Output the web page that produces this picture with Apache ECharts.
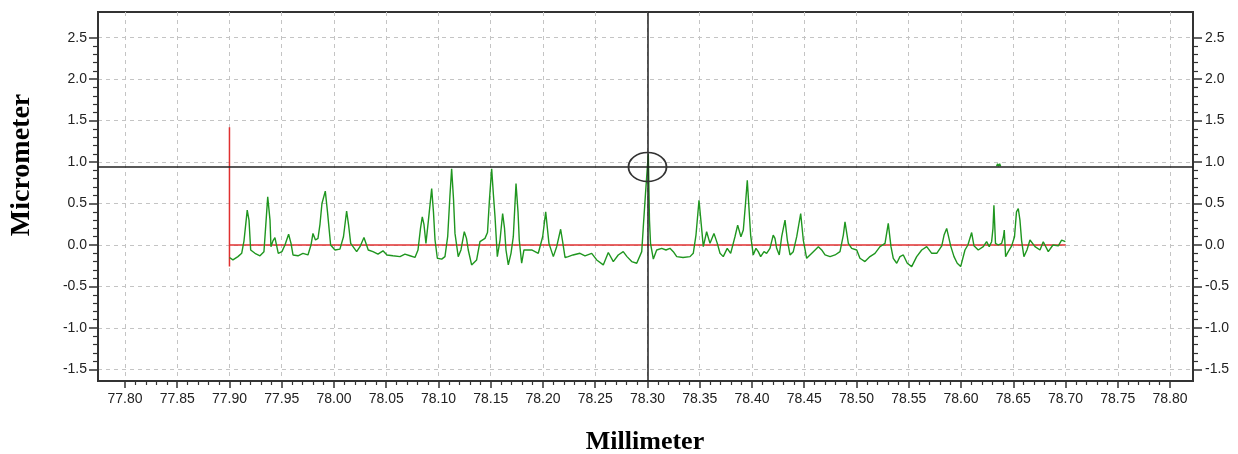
<!DOCTYPE html>
<html>
<head>
<meta charset="utf-8">
<script src="https://cdn.jsdelivr.net/npm/echarts@6/dist/echarts.min.js"></script>
<style>html,body{margin:0;padding:0;background:#fff}#c{width:1238px;height:454px}</style>
</head>
<body>
<div id="c"></div>
<script>
// ---- data ----
const xRange = [77.7742, 78.822];
const yRange = [-1.64, 2.81];
const xTicks = [77.80,77.85,77.90,77.95,78.00,78.05,78.10,78.15,78.20,78.25,78.30,78.35,78.40,78.45,78.50,78.55,78.60,78.65,78.70,78.75,78.80];
const yTicks = [-1.5,-1.0,-0.5,0.0,0.5,1.0,1.5,2.0,2.5];
const xName = 'Millimeter';
const yName = 'Micrometer';
// measured profile [mm, µm]
const profile = [
[77.9000,-0.15],[77.9033,-0.18],[77.9081,-0.14],[77.9117,-0.10],[77.9139,0.05],[77.9170,0.42],[77.9187,0.30],[77.9203,-0.06],
[77.9244,-0.10],[77.9292,-0.13],[77.9330,-0.08],[77.9366,0.58],[77.9388,0.30],[77.9397,-0.02],[77.9416,0.05],[77.9435,0.09],
[77.9467,-0.10],[77.9502,-0.08],[77.9531,0.00],[77.9566,0.13],[77.9589,0.02],[77.9608,-0.12],[77.9656,-0.13],[77.9703,-0.10],
[77.9751,-0.12],[77.9780,0.00],[77.9799,0.14],[77.9823,0.06],[77.9847,0.08],[77.9866,0.25],[77.9885,0.50],[77.9917,0.65],
[77.9938,0.40],[77.9968,0.00],[78.0010,-0.06],[78.0057,-0.05],[78.0091,0.10],[78.0121,0.41],[78.0139,0.25],[78.0160,0.02],
[78.0217,-0.08],[78.0249,-0.02],[78.0287,0.09],[78.0328,-0.06],[78.0373,-0.08],[78.0421,-0.11],[78.0469,-0.07],[78.0507,-0.12],
[78.0564,-0.13],[78.0632,-0.14],[78.0679,-0.11],[78.0727,-0.13],[78.0775,-0.15],[78.0804,-0.06],[78.0828,0.20],[78.0845,0.34],
[78.0861,0.25],[78.0880,0.02],[78.0904,0.30],[78.0935,0.68],[78.0952,0.40],[78.0967,0.06],[78.0989,-0.16],[78.1031,-0.17],
[78.1062,-0.14],[78.1088,0.10],[78.1110,0.60],[78.1126,0.92],[78.1144,0.55],[78.1158,0.14],[78.1189,-0.14],[78.1215,-0.06],
[78.1247,0.16],[78.1268,0.08],[78.1285,-0.06],[78.1317,-0.24],[78.1365,-0.18],[78.1397,0.04],[78.1445,0.08],[78.1469,0.15],
[78.1488,0.55],[78.1509,0.92],[78.1526,0.60],[78.1541,0.34],[78.1563,-0.14],[78.1589,0.06],[78.1614,0.38],[78.1632,0.20],
[78.1646,-0.06],[78.1668,-0.24],[78.1694,-0.10],[78.1716,0.10],[78.1742,0.74],[78.1761,0.40],[78.1773,0.06],[78.1796,-0.22],
[78.1818,-0.06],[78.1892,-0.06],[78.1955,-0.10],[78.1997,0.10],[78.2026,0.40],[78.2057,0.02],[78.2099,-0.14],[78.2131,-0.02],
[78.2169,0.19],[78.2187,0.05],[78.2211,-0.15],[78.2242,-0.14],[78.2287,-0.12],[78.2354,-0.10],[78.2402,-0.13],[78.2466,-0.10],
[78.2514,-0.18],[78.2577,-0.24],[78.2625,-0.09],[78.2673,-0.20],[78.2720,-0.12],[78.2768,-0.08],[78.2804,-0.14],[78.2849,-0.20],
[78.2897,-0.22],[78.2945,-0.08],[78.2960,0.22],[78.2981,0.62],[78.2995,0.60],[78.3008,1.10],[78.3019,0.30],[78.3029,0.02],
[78.3056,-0.17],[78.3088,-0.06],[78.3136,-0.04],[78.3177,-0.06],[78.3215,-0.04],[78.3247,-0.08],[78.3280,-0.14],[78.3340,-0.15],
[78.3407,-0.14],[78.3438,-0.10],[78.3464,0.12],[78.3493,0.54],[78.3518,0.20],[78.3534,-0.02],[78.3566,0.16],[78.3598,0.02],
[78.3636,0.14],[78.3668,0.02],[78.3694,-0.10],[78.3725,-0.14],[78.3763,-0.04],[78.3796,-0.10],[78.3837,0.10],[78.3863,0.24],
[78.3894,0.10],[78.3917,0.18],[78.3938,0.50],[78.3955,0.78],[78.3971,0.45],[78.3987,0.12],[78.4012,-0.12],[78.4038,-0.04],
[78.4060,-0.08],[78.4083,-0.14],[78.4115,-0.08],[78.4140,-0.10],[78.4172,-0.04],[78.4203,0.12],[78.4220,0.08],[78.4236,-0.04],
[78.4261,-0.12],[78.4284,0.10],[78.4316,0.30],[78.4338,0.06],[78.4364,-0.12],[78.4395,-0.08],[78.4428,0.10],[78.4466,0.38],
[78.4491,0.06],[78.4523,-0.16],[78.4555,-0.12],[78.4587,-0.08],[78.4635,-0.02],[78.4667,-0.06],[78.4699,-0.12],[78.4747,-0.14],
[78.4795,-0.12],[78.4842,-0.08],[78.4874,0.12],[78.4890,0.28],[78.4922,0.02],[78.4954,-0.04],[78.5002,-0.06],[78.5033,-0.16],
[78.5081,-0.20],[78.5129,-0.14],[78.5177,-0.10],[78.5225,-0.02],[78.5273,0.02],[78.5304,0.26],[78.5330,-0.02],[78.5352,-0.16],
[78.5385,-0.22],[78.5416,-0.14],[78.5448,-0.12],[78.5486,-0.22],[78.5528,-0.26],[78.5576,-0.14],[78.5624,-0.06],[78.5672,-0.02],
[78.5720,-0.10],[78.5768,-0.10],[78.5816,-0.01],[78.5838,0.12],[78.5863,0.20],[78.5885,0.08],[78.5901,-0.01],[78.5933,-0.14],
[78.5964,-0.22],[78.5997,-0.26],[78.6038,-0.06],[78.6066,0.00],[78.6102,0.15],[78.6124,-0.01],[78.6165,-0.06],[78.6213,-0.02],
[78.6245,0.04],[78.6270,-0.02],[78.6293,0.04],[78.6306,0.20],[78.6315,0.48],[78.6330,0.02],[78.6356,0.00],[78.6389,0.02],
[78.6406,0.10],[78.6414,0.18],[78.6427,-0.14],[78.6452,-0.08],[78.6485,-0.01],[78.6512,0.10],[78.6531,0.40],[78.6548,0.44],
[78.6564,0.30],[78.6580,0.05],[78.6602,-0.14],[78.6631,-0.06],[78.6660,0.06],[78.6708,-0.02],[78.6756,-0.06],[78.6787,0.04],
[78.6835,-0.08],[78.6880,0.00],[78.6931,-0.01],[78.6963,0.06],[78.6999,0.04]
];
// small stray trace near the cursor level
const blip = [[78.6340,0.95],[78.6350,0.98],[78.6360,0.95],[78.6370,0.98],[78.6380,0.95]];
// reference lines (red)
const baseLine = [[77.90,0.0],[78.70,0.0]];
const startMarker = [[77.90,-0.26],[77.90,1.42]];
// cursor
const cursor = {x: 78.30, y: 0.94};

// minor tick positions (subdivide each major interval into 5)
function subdivide(t, n){ const out=[]; for(let i=0;i<t.length-1;i++){ for(let k=1;k<n;k++){ out.push(+(t[i]+(t[i+1]-t[i])*k/n).toFixed(4)); } } return out; }
const xMinor = subdivide(xTicks,5);
const yMinor = subdivide(yTicks,5);

const gridRect = {left:98, right:45, top:12, bottom:73};
const labelFont = {fontFamily:'Liberation Sans', fontSize:14, color:'#222'};

const chart = echarts.init(document.getElementById('c'), null, {renderer:'canvas'});
chart.setOption({
  animation:false,
  grid:[
    Object.assign({show:true, borderColor:'#333', borderWidth:2, containLabel:false}, gridRect),
    Object.assign({show:false, containLabel:false}, gridRect)
  ],
  xAxis:[
    {type:'value', gridIndex:0, position:'bottom', min:xRange[0], max:xRange[1],
     axisLine:{show:true, onZero:false, lineStyle:{color:'#333', width:2}},
     axisTick:{show:true, length:7, customValues:xTicks, lineStyle:{color:'#333', width:1.5}},
     axisLabel:Object.assign({show:true, margin:11, customValues:xTicks, formatter:v=>v.toFixed(2)}, labelFont),
     splitLine:{show:true, lineStyle:{color:'#c4c4c4', type:[4,4], width:1}}},
    {type:'value', gridIndex:1, position:'bottom', min:xRange[0], max:xRange[1],
     axisLine:{show:false, onZero:false},
     axisTick:{show:true, length:4, customValues:xMinor, lineStyle:{color:'#333', width:1.2}},
     axisLabel:{show:false}, splitLine:{show:false}}
  ],
  yAxis:[
    {type:'value', gridIndex:0, position:'left', min:yRange[0], max:yRange[1],
     axisLine:{show:true, onZero:false, lineStyle:{color:'#333', width:2}},
     axisTick:{show:true, length:9, customValues:yTicks, lineStyle:{color:'#333', width:1.5}},
     axisLabel:Object.assign({show:true, margin:11, customValues:yTicks, formatter:v=>v.toFixed(1)}, labelFont),
     splitLine:{show:true, lineStyle:{color:'#c4c4c4', type:[4,4], width:1}}},
    {type:'value', gridIndex:0, position:'right', min:yRange[0], max:yRange[1],
     axisLine:{show:true, onZero:false, lineStyle:{color:'#333', width:2}},
     axisTick:{show:true, length:9, customValues:yTicks, lineStyle:{color:'#333', width:1.5}},
     axisLabel:Object.assign({show:true, margin:12, customValues:yTicks, formatter:v=>v.toFixed(1)}, labelFont),
     splitLine:{show:false}},
    {type:'value', gridIndex:1, position:'left', min:yRange[0], max:yRange[1],
     axisLine:{show:false, onZero:false},
     axisTick:{show:true, length:5, customValues:yMinor, lineStyle:{color:'#333', width:1.2}},
     axisLabel:{show:false}, splitLine:{show:false}},
    {type:'value', gridIndex:1, position:'right', min:yRange[0], max:yRange[1],
     axisLine:{show:false, onZero:false},
     axisTick:{show:true, length:5, customValues:yMinor, lineStyle:{color:'#333', width:1.2}},
     axisLabel:{show:false}, splitLine:{show:false}}
  ],
  graphic:[
    {type:'text', x:22, y:165, rotation:Math.PI/2,
     style:{text:yName, font:'bold 28px "Liberation Serif"', fill:'#000', align:'center', verticalAlign:'middle'}},
    {type:'text', x:645, y:442,
     style:{text:xName, font:'bold 26px "Liberation Serif"', fill:'#000', align:'center', verticalAlign:'middle'}}
  ],
  series:[
    {type:'line', xAxisIndex:0, yAxisIndex:0, data:baseLine, showSymbol:false, silent:true,
     lineStyle:{color:'#e03030', width:1.5}, z:2},
    {type:'line', xAxisIndex:0, yAxisIndex:0, data:startMarker, showSymbol:false, silent:true,
     lineStyle:{color:'#e03030', width:1.5}, z:2},
    {type:'line', xAxisIndex:0, yAxisIndex:0, data:profile, showSymbol:false, silent:true,
     lineStyle:{color:'#1f961f', width:1.4}, z:3},
    {type:'line', xAxisIndex:0, yAxisIndex:0, data:blip, showSymbol:false, silent:true,
     lineStyle:{color:'#1f961f', width:1.3}, z:3},
    {type:'line', xAxisIndex:0, yAxisIndex:0, data:[], silent:true, z:5,
     markLine:{silent:true, symbol:'none', animation:false, label:{show:false},
       lineStyle:{color:'#222', width:1.5, type:'solid'},
       data:[{xAxis:cursor.x},{yAxis:cursor.y}]},
     markPoint:{silent:true, animation:false, label:{show:false},
       data:[{coord:[cursor.x,cursor.y], symbol:'circle', symbolSize:[38,29],
         itemStyle:{color:'rgba(0,0,0,0)', borderColor:'#333', borderWidth:1.6}}]}}
  ]
});
</script>
</body>
</html>
